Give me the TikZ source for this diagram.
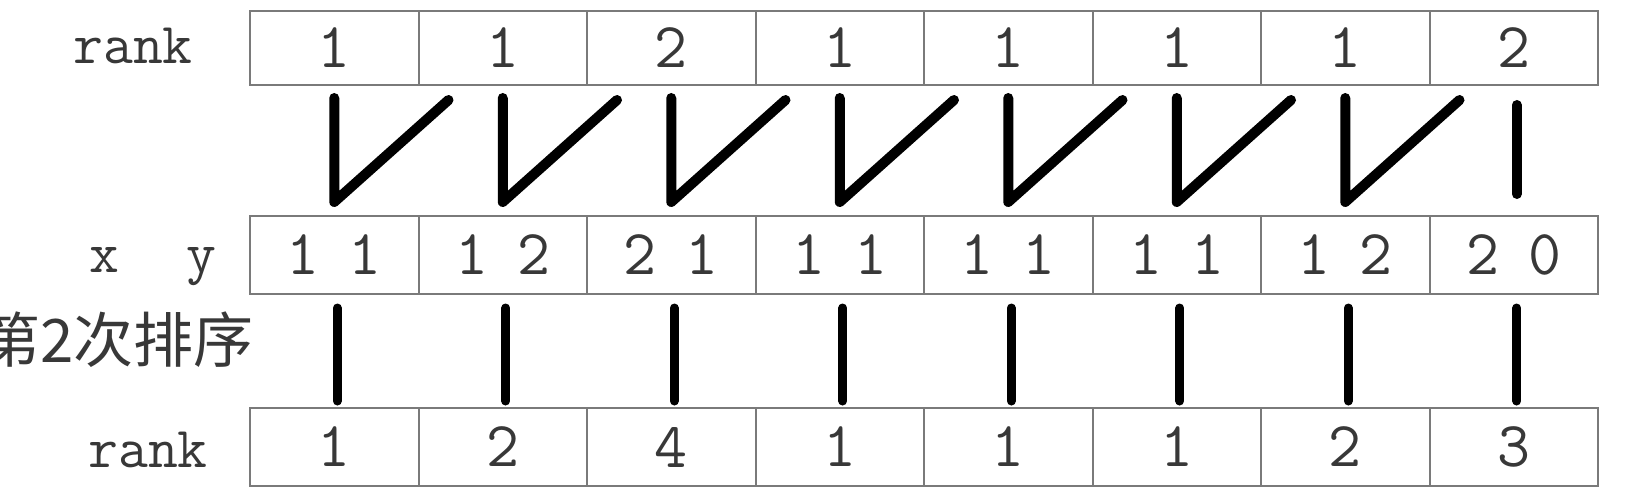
\documentclass[tikz,border=0pt]{standalone}
\usepackage{fontspec}
\newfontfamily\cjk{Noto Sans CJK SC}
\usetikzlibrary{calc}
\definecolor{boxgray}{HTML}{7A7A7A}
\definecolor{txtgray}{HTML}{383838}
\begin{document}
\begin{tikzpicture}[x=0.5pt,y=-0.5pt,
  cell/.style={draw=boxgray, line width=1pt, minimum width=84.25pt, minimum height=37pt,
    inner sep=0pt, anchor=north west, text=txtgray,
    font=\ttfamily\fontsize{32}{32}\selectfont},
  tallcell/.style={cell, minimum height=39pt},
  conn/.style={line width=5pt, line cap=round, line join=round},
  conntwo/.style={line width=4.5pt, line cap=round},
  lbl/.style={font=\ttfamily\fontsize{29}{29}\selectfont, text=txtgray, inner sep=0pt},
  cjklbl/.style={font=\cjk\fontsize{30}{30}\selectfont, text=txtgray, inner sep=0pt}]
\useasboundingbox (0,0) rectangle (1626,492);
\clip (0,0) rectangle (1626,492);
% rows
\foreach \v [count=\i] in {1,1,2,1,1,1,1,2}
  \node[cell] (t\i) at ({249+168.5*(\i-1)},10) {\v};
\foreach \a/\b [count=\i] in {1/1,1/2,2/1,1/1,1/1,1/1,1/2,2/0}
  \node[tallcell] (m\i) at ({249+168.5*(\i-1)},215) {\a\hspace{14.7pt}\b};
\foreach \v [count=\i] in {1,2,4,1,1,1,2,3}
  \node[tallcell] (b\i) at ({249+168.5*(\i-1)},407) {\v};
% labels
\node[lbl, anchor=base] (r1) at (133,64) {rank};
\node[lbl, anchor=base] (xy) at (153,272) {x\hspace{33.8pt}y};
\node[cjklbl, anchor=east] (sort) at (254,340) {第2次排序};
\node[lbl, anchor=base] (r2) at (148,467) {rank};
% V connectors
\foreach \i in {1,...,7}{
  \pgfmathtruncatemacro\j{\i+1}
  \draw[conn] ($(t\i.south)+(0,12)$) -- ($(m\i.north)+(0,-13)$) -- ($(t\j.south west)+(31,14)$);
}
\draw[conn] ($(t8.south)+(3,19)$) -- ($(m8.north)+(3,-21)$);
% vertical connectors
\foreach \i in {1,...,8}
  \draw[conntwo] ($(m\i.south)+(3,13)$) -- ($(b\i.north)+(3,-6)$);
\end{tikzpicture}
\end{document}
